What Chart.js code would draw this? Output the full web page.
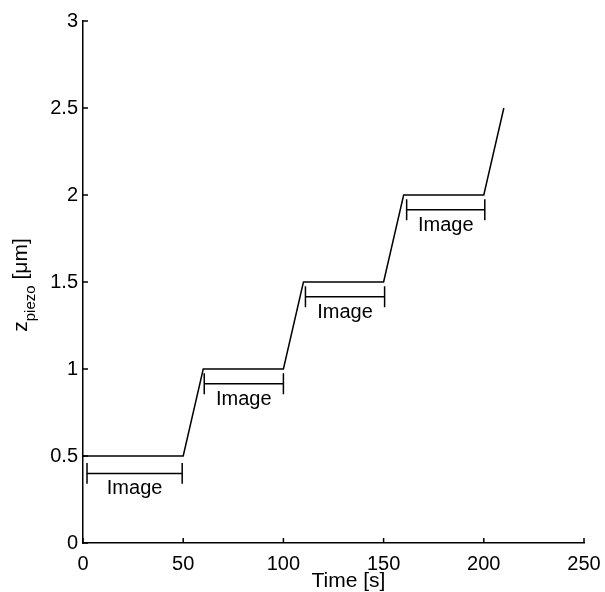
<!DOCTYPE html>
<html>
<head>
<meta charset="utf-8">
<script src="https://cdn.jsdelivr.net/npm/chart.js@4"></script>
<style>
  body { margin: 0; background: #fff; }
  #wrap { width: 605px; height: 592px; }
</style>
</head>
<body>
<div id="wrap"><canvas id="c"></canvas></div>
<script>
// piezo staircase
var stepTimes = [0, 50, 60, 100, 110, 150, 160, 200, 210];
var stepZ = [0.5, 0.5, 1, 1, 1.5, 1.5, 2, 2, 2.5];

// "Image" brackets
var imageStart = [2, 60.5, 111, 161.5];
var imageEnd = [49.5, 100, 150.5, 200.5];
var imageLevel = [0.40, 0.915, 1.415, 1.915];
var imageText = ['Image', 'Image', 'Image', 'Image'];

var xTicks = [0, 50, 100, 150, 200, 250];
var xTickLabels = ['0', '50', '100', '150', '200', '250'];
var yTicks = [0, 0.5, 1, 1.5, 2, 2.5, 3];
var yTickLabels = ['0', '0.5', '1', '1.5', '2', '2.5', '3'];

var FONT = "'Liberation Sans', Arial, Helvetica, sans-serif";
var capHalf = 0.06;

var datasets = [{
  data: stepTimes.map(function (t, i) { return {x: t, y: stepZ[i]}; }),
  borderColor: '#000',
  borderWidth: 1.5,
  pointRadius: 0,
  showLine: true
}];

imageStart.forEach(function (s, i) {
  var e = imageEnd[i], l = imageLevel[i];
  datasets.push({
    data: [
      {x: s, y: l + capHalf}, {x: s, y: l - capHalf}, {x: s, y: l},
      {x: e, y: l}, {x: e, y: l + capHalf}, {x: e, y: l - capHalf}
    ],
    borderColor: '#000',
    borderWidth: 1.5,
    pointRadius: 0,
    showLine: true
  });
});

// ticks pointing inward, like the original figure
var inwardTicks = {
  id: 'inwardTicks',
  afterDraw: function (chart) {
    var ctx = chart.ctx, a = chart.chartArea;
    var x = chart.scales.x, y = chart.scales.y;
    ctx.save();
    ctx.strokeStyle = '#000';
    ctx.lineWidth = 1.5;
    ctx.beginPath();
    xTicks.forEach(function (v) {
      var px = x.getPixelForValue(v);
      ctx.moveTo(px, a.bottom);
      ctx.lineTo(px, a.bottom - 5);
    });
    yTicks.forEach(function (v) {
      var py = y.getPixelForValue(v);
      ctx.moveTo(a.left, py);
      ctx.lineTo(a.left + 5, py);
    });
    ctx.stroke();
    ctx.restore();
  }
};

var labels = {
  id: 'labels',
  afterDraw: function (chart) {
    var ctx = chart.ctx, a = chart.chartArea;
    var x = chart.scales.x, y = chart.scales.y;
    ctx.save();
    ctx.fillStyle = '#000';

    // bracket labels
    ctx.font = '20px ' + FONT;
    ctx.textAlign = 'center';
    ctx.textBaseline = 'alphabetic';
    imageText.forEach(function (t, i) {
      var cx = x.getPixelForValue((imageStart[i] + imageEnd[i]) / 2);
      ctx.fillText(t, cx, y.getPixelForValue(imageLevel[i] - 0.12));
    });

    // x title
    ctx.font = '21px ' + FONT;
    ctx.fillText('Time [s]', (a.left + a.right) / 2 + 15, chart.height - 5);

    // y title with subscript
    ctx.textAlign = 'left';
    var big = '21px ' + FONT, small = '15px ' + FONT;
    ctx.font = big;
    var w1 = ctx.measureText('z').width;
    var w3 = ctx.measureText(' [\u03bcm]').width;
    ctx.font = small;
    var w2 = ctx.measureText('piezo').width;
    var total = w1 + w2 + w3;
    ctx.translate(27, (a.top + a.bottom) / 2 + 3 + total / 2);
    ctx.rotate(-Math.PI / 2);
    ctx.font = big;
    ctx.fillText('z', 0, 0);
    ctx.font = small;
    ctx.fillText('piezo', w1, 8);
    ctx.font = big;
    ctx.fillText(' [\u03bcm]', w1 + w2, 0);
    ctx.restore();
  }
};

new Chart(document.getElementById('c'), {
  type: 'scatter',
  data: {datasets: datasets},
  options: {
    responsive: true,
    maintainAspectRatio: false,
    animation: false,
    layout: {padding: {left: 0, right: 21, top: 21, bottom: 0}},
    plugins: {legend: {display: false}, tooltip: {enabled: false}},
    scales: {
      x: {
        type: 'linear',
        min: 0,
        max: 250,
        afterFit: function (s) { s.height = 49; s.paddingLeft = 0; s.paddingRight = 0; },
        afterBuildTicks: function (s) { s.ticks = xTicks.map(function (v) { return {value: v}; }); },
        grid: {display: false, drawTicks: false},
        border: {display: true, color: '#000', width: 1.5},
        ticks: {
          color: '#000', font: {family: FONT, size: 20}, padding: 9, maxRotation: 0,
          callback: function (v) { return xTickLabels[xTicks.indexOf(v)]; }
        }
      },
      y: {
        type: 'linear',
        min: 0,
        max: 3,
        afterFit: function (s) { s.width = 83; s.paddingTop = 0; s.paddingBottom = 0; },
        afterBuildTicks: function (s) { s.ticks = yTicks.map(function (v) { return {value: v}; }); },
        grid: {display: false, drawTicks: false},
        border: {display: true, color: '#000', width: 1.5},
        ticks: {
          color: '#000', font: {family: FONT, size: 20}, padding: 5,
          callback: function (v) { return yTickLabels[yTicks.indexOf(v)]; }
        }
      }
    }
  },
  plugins: [inwardTicks, labels]
});
</script>
</body>
</html>
